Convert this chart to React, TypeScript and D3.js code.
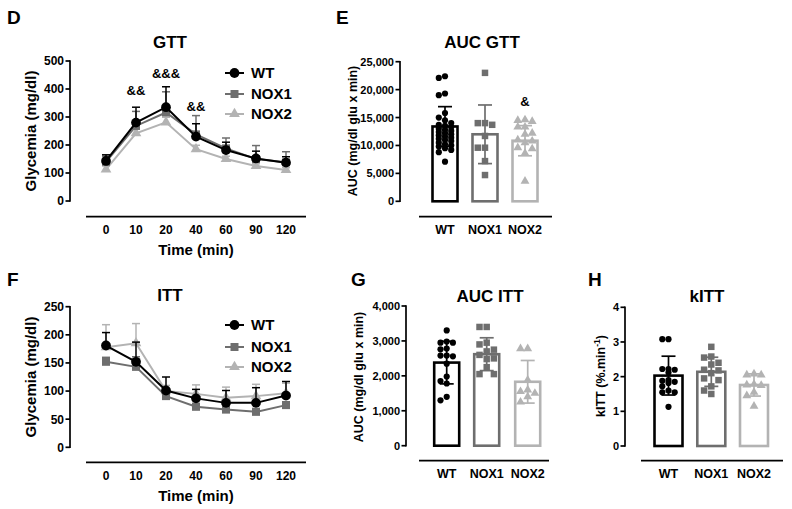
import React from 'react';
import * as d3 from 'd3';

const FONT = '"Liberation Sans", Arial, Helvetica, sans-serif';

const groups = ['WT', 'NOX1', 'NOX2'];
const groupColors = ['#000000', '#6e6e6e', '#b3b3b3'];
const timePoints = ['0', '10', '20', '40', '60', '90', '120'];

// GTT (mean, upward error)
const gttWT = [143, 280, 335, 230, 182, 152, 137];
const gttWTErr = [22, 55, 73, 46, 28, 26, 21];
const gttNOX1 = [140, 268, 316, 238, 188, 150, 138];
const gttNOX1Err = [20, 52, 74, 67, 37, 48, 38];
const gttNOX2 = [113, 242, 281, 185, 150, 125, 111];
const gttNOX2Err = [12, 15, 18, 14, 10, 8, 8];
const gttTicks = [0, 100, 200, 300, 400, 500];
const gttSignif = ['', '&&', '&&&', '&&', '', '', ''];

// ITT
const ittWT = [181, 152, 101, 87, 79, 79, 92];
const ittWTErr = [23, 35, 24, 16, 22, 27, 25];
const ittNOX1 = [152, 143, 91, 72, 67, 63, 75];
const ittNOX1Err = [8, 18, 6, 6, 6, 6, 6];
const ittNOX2 = [178, 185, 100, 95, 88, 91, 96];
const ittNOX2Err = [40, 35, 10, 16, 19, 21, 18];
const ittTicks = [0, 50, 100, 150, 200, 250];

// AUC GTT
const aucGttWT = [22400, 22100, 19300, 19000, 15800, 15000, 14500, 14000, 13700, 13500, 13300, 13000, 12800, 12600, 12400, 12200, 12000, 11800, 11600, 11400, 11200, 11000, 10800, 10500, 10200, 10000, 9800, 9500, 9200, 8800, 7100];
const aucGttNOX1 = [23000, 14000, 13700, 14000, 11700, 9600, 9600, 7200, 4700];
const aucGttNOX2 = [14500, 14600, 14300, 13300, 13300, 12200, 12000, 11000, 10800, 10500, 9600, 9400, 8600, 3600];
const aucGttMeans = [13400, 12000, 10850];
const aucGttSD = [3550, 5250, 2700];
const aucGttTicks = [0, 5000, 10000, 15000, 20000, 25000];
const aucGttSignif = ['', '', '&'];

// AUC ITT
const aucIttWT = [3300, 2950, 2950, 2980, 2780, 2760, 2580, 2560, 2580, 2350, 1980, 1850, 1780, 1400, 1300];
const aucIttNOX1 = [3400, 3400, 2900, 2950, 2750, 2700, 2600, 2500, 2480, 2250, 2050, 2050];
const aucIttNOX2 = [2780, 2780, 1880, 1600, 1550, 1500, 1400, 1250];
const aucIttMeans = [2380, 2620, 1830];
const aucIttSD = [610, 470, 610];
const aucIttTicks = [0, 1000, 2000, 3000, 4000];

// kITT
const kittWT = [3.08, 3.08, 2.22, 2.2, 2.22, 2.12, 1.9, 1.88, 1.85, 1.82, 1.72, 1.6, 1.55, 1.55, 1.13];
const kittNOX1 = [2.86, 2.58, 2.55, 2.4, 2.35, 2.2, 2.18, 2.1, 1.95, 1.9, 1.72, 1.6, 1.5];
const kittNOX2 = [2.05, 2.08, 2.05, 1.78, 1.76, 1.75, 1.55, 1.45, 1.15];
const kittMeans = [2.03, 2.14, 1.76];
const kittSD = [0.56, 0.42, 0.32];
const kittTicks = [0, 1, 2, 3, 4];

const lineSymbols = [d3.symbolCircle, d3.symbolSquare, d3.symbolTriangle];
const lineSymbolSizes = [75, 64, 50];
const dotSymbolSizes = [30, 42, 34];

function beeswarm(ys: number[], size: number, maxOff: number): number[] {
  const order = ys.map((_, i) => i).sort((a, b) => ys[a] - ys[b]);
  const placed: { x: number; y: number }[] = [];
  const offs = new Array(ys.length).fill(0);
  const step = size * 1.0;
  const cands: number[] = [0];
  for (let k = 1; k <= 8; k++) cands.push(-k * step, k * step);
  for (const i of order) {
    const y = ys[i];
    let chosen: number | null = null;
    for (const c of cands) {
      if (Math.abs(c) > maxOff) continue;
      if (placed.every((p) => Math.hypot(p.x - c, p.y - y) >= size)) {
        chosen = c;
        break;
      }
    }
    if (chosen === null) {
      let bestD = -1;
      for (const c of cands) {
        if (Math.abs(c) > maxOff) continue;
        const d = Math.min(...placed.map((p) => Math.hypot(p.x - c, p.y - y)));
        if (d > bestD) {
          bestD = d;
          chosen = c;
        }
      }
    }
    offs[i] = chosen ?? 0;
    placed.push({ x: offs[i], y });
  }
  return offs;
}

type YAxisProps = {
  x: number;
  scale: d3.ScaleLinear<number, number>;
  ticks: number[];
  fmt: (v: number) => string;
  fontSize: number;
};

function YAxis({ x, scale, ticks, fmt, fontSize }: YAxisProps) {
  const [r0, r1] = scale.range();
  return (
    <g>
      <line x1={x} x2={x} y1={r0 + 0.8} y2={r1 - 0.8} stroke="#000" strokeWidth={1.7} />
      {ticks.map((t) => (
        <g key={t}>
          <line x1={x - 4.5} x2={x} y1={scale(t)} y2={scale(t)} stroke="#000" strokeWidth={1.7} />
          <text x={x - 6} y={scale(t) + fontSize * 0.36} textAnchor="end" fontSize={fontSize} fontWeight="bold" fontFamily={FONT} fill="#000">
            {fmt(t)}
          </text>
        </g>
      ))}
    </g>
  );
}

type Series = { means: number[]; errs: number[]; idx: number };

type LinePanelProps = {
  letter: string;
  letterY: number;
  title: string;
  titleY: number;
  yDomain: [number, number];
  yRange: [number, number];
  yTicks: number[];
  xAxisY: number;
  series: Series[];
  legendYs: number[];
  yTitleY: number;
  signif?: string[];
  signifYs?: number[];
};

function LinePanel(p: LinePanelProps) {
  const axisX = 70;
  const y = d3.scaleLinear().domain(p.yDomain).range(p.yRange);
  const x = d3.scalePoint<string>().domain(timePoints).range([106, 286]);
  const line = d3
    .line<number>()
    .x((_, i) => x(timePoints[i]) as number)
    .y((d) => y(d));
  const order = [...p.series].sort((a, b) => b.idx - a.idx);
  return (
    <g>
      <text x={7} y={p.letterY} fontSize={19} fontWeight="bold" fontFamily={FONT}>{p.letter}</text>
      <text x={170} y={p.titleY} textAnchor="middle" fontSize={17} fontWeight="bold" fontFamily={FONT}>{p.title}</text>
      <text transform={`translate(36,${p.yTitleY}) rotate(-90)`} textAnchor="middle" fontSize={15} fontWeight="bold" fontFamily={FONT}>Glycemia (mg/dl)</text>
      <YAxis x={axisX} scale={y} ticks={p.yTicks} fmt={(v) => String(v)} fontSize={12} />
      <line x1={86} x2={306} y1={p.xAxisY} y2={p.xAxisY} stroke="#000" strokeWidth={1.7} />
      {timePoints.map((t) => (
        <text key={t} x={x(t) as number} y={p.xAxisY + 17.5} textAnchor="middle" fontSize={12} fontWeight="bold" fontFamily={FONT}>{t}</text>
      ))}
      <text x={196} y={p.xAxisY + 38.5} textAnchor="middle" fontSize={15} fontWeight="bold" fontFamily={FONT}>Time (min)</text>
      {order.map((s) => {
        const col = groupColors[s.idx];
        const sym = d3.symbol().type(lineSymbols[s.idx]).size(lineSymbolSizes[s.idx])() as string;
        return (
          <g key={s.idx}>
            {s.means.map((m, i) => {
              const cx = x(timePoints[i]) as number;
              const top = y(m + s.errs[i]);
              return (
                <g key={i}>
                  <line x1={cx} x2={cx} y1={y(m)} y2={top} stroke={col} strokeWidth={1.5} />
                  <line x1={cx - 4} x2={cx + 4} y1={top} y2={top} stroke={col} strokeWidth={1.5} />
                </g>
              );
            })}
            <path d={line(s.means) as string} fill="none" stroke={col} strokeWidth={2} />
            {s.means.map((m, i) => (
              <path key={i} d={sym} transform={`translate(${x(timePoints[i])},${y(m)})`} fill={col} />
            ))}
          </g>
        );
      })}
      {p.signif &&
        p.signif.map((sg, i) =>
          sg ? (
            <text key={i} x={x(timePoints[i]) as number} y={p.signifYs![i]} textAnchor="middle" fontSize={13} fontWeight="bold" fontFamily={FONT}>{sg}</text>
          ) : null
        )}
      {groups.map((g, i) => {
        const ly = p.legendYs[i];
        const col = groupColors[i];
        const sym = d3.symbol().type(lineSymbols[i]).size(lineSymbolSizes[i])() as string;
        return (
          <g key={g}>
            <line x1={225} x2={244} y1={ly} y2={ly} stroke={col} strokeWidth={2} />
            <path d={sym} transform={`translate(234.5,${ly})`} fill={col} />
            <text x={251} y={ly + 5.4} fontSize={15} fontWeight="bold" fontFamily={FONT}>{g}</text>
          </g>
        );
      })}
    </g>
  );
}

type BarPanelProps = {
  letter: string;
  letterX: number;
  letterY: number;
  title: string;
  titleX: number;
  titleY: number;
  axisX: number;
  yDomain: [number, number];
  yRange: [number, number];
  yTicks: number[];
  fmt: (v: number) => string;
  xLine: [number, number];
  xLineY: number;
  centers: number[];
  barWidth: number;
  means: number[];
  sds: number[];
  points: number[][];
  yTitle: React.ReactNode;
  yTitleX: number;
  yTitleY: number;
  signif?: string[];
  signifY?: number;
};

function BarPanel(p: BarPanelProps) {
  const y = d3.scaleLinear().domain(p.yDomain).range(p.yRange);
  const x = d3.scaleOrdinal<string, number>().domain(groups).range(p.centers);
  const y0 = y(0);
  return (
    <g>
      <text x={p.letterX} y={p.letterY} fontSize={19} fontWeight="bold" fontFamily={FONT}>{p.letter}</text>
      <text x={p.titleX} y={p.titleY} textAnchor="middle" fontSize={17} fontWeight="bold" fontFamily={FONT}>{p.title}</text>
      <text transform={`translate(${p.yTitleX},${p.yTitleY}) rotate(-90)`} textAnchor="middle" fontSize={12.5} fontWeight="bold" fontFamily={FONT}>{p.yTitle}</text>
      <YAxis x={p.axisX} scale={y} ticks={p.yTicks} fmt={p.fmt} fontSize={11} />
      <line x1={p.xLine[0]} x2={p.xLine[1]} y1={p.xLineY} y2={p.xLineY} stroke="#000" strokeWidth={1.7} />
      {groups.map((g, i) => {
        const cx = x(g);
        const col = groupColors[i];
        const top = y(p.means[i]);
        const ys = p.points[i].map((v) => y(v));
        const dsz = i === 0 ? 6.2 : 7.2;
        const offs = beeswarm(ys, dsz, p.barWidth / 2 - 2);
        const sym = d3.symbol().type(lineSymbols[i]).size(dotSymbolSizes[i])() as string;
        const eTop = y(p.means[i] + p.sds[i]);
        const eBot = y(p.means[i] - p.sds[i]);
        return (
          <g key={g}>
            <rect x={cx - p.barWidth / 2} y={top} width={p.barWidth} height={y0 - top} fill="#fff" stroke={col} strokeWidth={2.6} />
            {ys.map((py, k) => (
              <path key={k} d={sym} transform={`translate(${cx + offs[k]},${py})`} fill={col} />
            ))}
            <line x1={cx} x2={cx} y1={eTop} y2={eBot} stroke={col} strokeWidth={1.7} />
            <line x1={cx - 7} x2={cx + 7} y1={eTop} y2={eTop} stroke={col} strokeWidth={1.7} />
            <line x1={cx - 7} x2={cx + 7} y1={eBot} y2={eBot} stroke={col} strokeWidth={1.7} />
            <text x={cx} y={p.xLineY + 17.5} textAnchor="middle" fontSize={12.5} fontWeight="bold" fontFamily={FONT}>{g}</text>
            {p.signif && p.signif[i] ? (
              <text x={cx} y={p.signifY} textAnchor="middle" fontSize={13} fontWeight="bold" fontFamily={FONT}>{p.signif[i]}</text>
            ) : null}
          </g>
        );
      })}
    </g>
  );
}

export default function App() {
  const fmtComma = d3.format(',');
  return (
    <svg width={792} height={509} viewBox="0 0 792 509" style={{ position: 'absolute', left: 0, top: 0, background: '#fff' }}>
      <rect x={0} y={0} width={792} height={509} fill="#fff" />
      <LinePanel
        letter="D"
        letterY={24}
        title="GTT"
        titleY={48}
        yDomain={[0, 500]}
        yRange={[201, 61]}
        yTicks={gttTicks}
        xAxisY={216.7}
        series={[
          { means: gttWT, errs: gttWTErr, idx: 0 },
          { means: gttNOX1, errs: gttNOX1Err, idx: 1 },
          { means: gttNOX2, errs: gttNOX2Err, idx: 2 },
        ]}
        legendYs={[73, 94, 114]}
        yTitleY={131}
        signif={gttSignif}
        signifYs={[0, 95, 78, 111, 0, 0, 0]}
      />
      <LinePanel
        letter="F"
        letterY={286}
        title="ITT"
        titleY={301}
        yDomain={[0, 250]}
        yRange={[447.3, 306.7]}
        yTicks={ittTicks}
        xAxisY={462.3}
        series={[
          { means: ittWT, errs: ittWTErr, idx: 0 },
          { means: ittNOX1, errs: ittNOX1Err, idx: 1 },
          { means: ittNOX2, errs: ittNOX2Err, idx: 2 },
        ]}
        legendYs={[325, 347, 367]}
        yTitleY={377}
      />
      <BarPanel
        letter="E"
        letterX={336}
        letterY={24}
        title="AUC GTT"
        titleX={482}
        titleY={48}
        axisX={400}
        yDomain={[0, 25000]}
        yRange={[201.3, 61.7]}
        yTicks={aucGttTicks}
        fmt={(v) => fmtComma(v)}
        xLine={[419, 552]}
        xLineY={216.7}
        centers={[445, 485, 525]}
        barWidth={25}
        means={aucGttMeans}
        sds={aucGttSD}
        points={[aucGttWT, aucGttNOX1, aucGttNOX2]}
        yTitle="AUC (mg/dl glu x min)"
        yTitleX={357}
        yTitleY={131}
        signif={aucGttSignif}
        signifY={106}
      />
      <BarPanel
        letter="G"
        letterX={351}
        letterY={286}
        title="AUC ITT"
        titleX={490}
        titleY={302}
        axisX={406}
        yDomain={[0, 4000]}
        yRange={[445.7, 306]}
        yTicks={aucIttTicks}
        fmt={(v) => fmtComma(v)}
        xLine={[419, 549]}
        xLineY={460.7}
        centers={[446.7, 486.7, 527.7]}
        barWidth={25}
        means={aucIttMeans}
        sds={aucIttSD}
        points={[aucIttWT, aucIttNOX1, aucIttNOX2]}
        yTitle="AUC (mg/dl glu x min)"
        yTitleX={363}
        yTitleY={377}
      />
      <BarPanel
        letter="H"
        letterX={588}
        letterY={286}
        title="kITT"
        titleX={707}
        titleY={302}
        axisX={625}
        yDomain={[0, 4]}
        yRange={[446, 307.3]}
        yTicks={kittTicks}
        fmt={(v) => String(v)}
        xLine={[641, 783]}
        xLineY={460.7}
        centers={[668.5, 711.3, 754]}
        barWidth={28}
        means={kittMeans}
        sds={kittSD}
        points={[kittWT, kittNOX1, kittNOX2]}
        yTitle={
          <>
            kITT (%.min
            <tspan dy={-5} fontSize={8.5}>-1</tspan>
            <tspan dy={5}>)</tspan>
          </>
        }
        yTitleX={605}
        yTitleY={376}
      />
    </svg>
  );
}
